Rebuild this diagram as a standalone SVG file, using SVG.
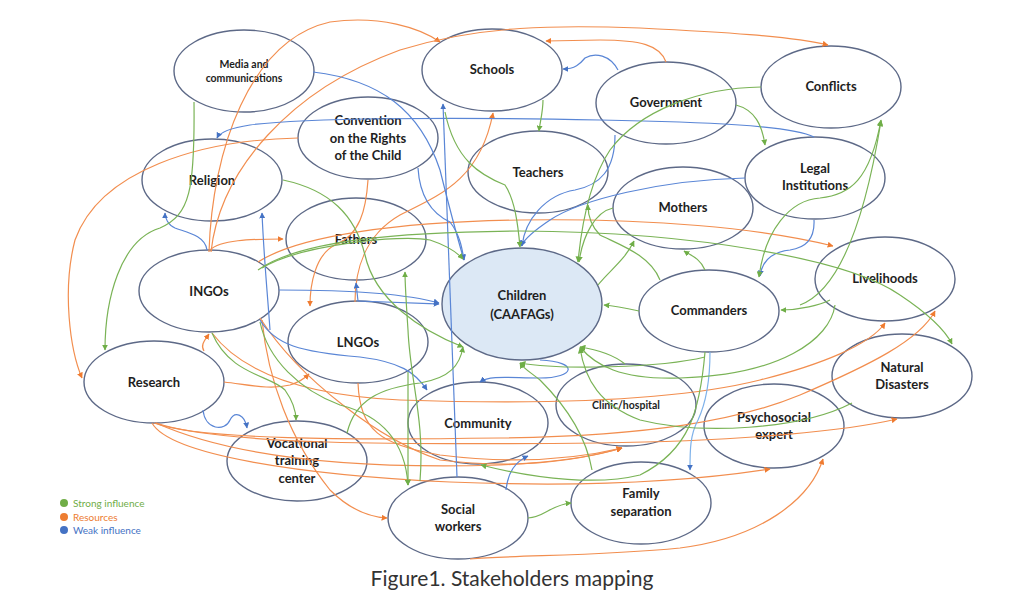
<svg xmlns="http://www.w3.org/2000/svg" width="1024" height="600" viewBox="0 0 1024 600">
<style>
.n ellipse{fill:#fff;stroke:#5d6987;stroke-width:1.4}
.n text{font-family:Lato,"Liberation Sans",sans-serif;font-weight:700;font-size:13px;fill:#1e1e1e;text-anchor:middle}
#children ellipse{fill:#dce8f5}
.c path{fill:none;stroke-width:1.2}
.g{stroke:#7ab356;marker-end:url(#mg)}
.o{stroke:#f28e4f;marker-end:url(#mo)}
.b{stroke:#5a86d6;marker-end:url(#mb)}
.lb{stroke:#7fb2ea;marker-end:url(#mb)}
.leg{font-family:Lato,"Liberation Sans",sans-serif;font-size:10px}
</style>
<defs>
<marker id="mg" viewBox="0 0 10 10" refX="9" refY="5" markerWidth="5" markerHeight="5" orient="auto-start-reverse"><path d="M0,0L10,5L0,10z" fill="#6fae47"/></marker>
<marker id="mo" viewBox="0 0 10 10" refX="9" refY="5" markerWidth="5" markerHeight="5" orient="auto-start-reverse"><path d="M0,0L10,5L0,10z" fill="#ef7b30"/></marker>
<marker id="mb" viewBox="0 0 10 10" refX="9" refY="5" markerWidth="5" markerHeight="5" orient="auto-start-reverse"><path d="M0,0L10,5L0,10z" fill="#4472c4"/></marker>
</defs>
<rect width="1024" height="600" fill="#fff"/>

<g id="media" class="n"><ellipse cx="244" cy="71" rx="70" ry="41"/><text x="244" y="68" style="font-size:10.5px">Media and</text><text x="244" y="82" style="font-size:10.5px">communications</text></g>
<g id="schools" class="n"><ellipse cx="492" cy="70" rx="70" ry="41"/><text x="492" y="74">Schools</text></g>
<g id="government" class="n"><ellipse cx="666" cy="103" rx="70" ry="41"/><text x="666" y="107">Government</text></g>
<g id="conflicts" class="n"><ellipse cx="831" cy="87" rx="70" ry="41"/><text x="831" y="91">Conflicts</text></g>
<g id="convention" class="n"><ellipse cx="368" cy="138" rx="70" ry="41"/><text x="368" y="125">Convention</text><text x="368" y="143">on the Rights</text><text x="368" y="160">of the Child</text></g>
<g id="religion" class="n"><ellipse cx="212" cy="180" rx="70" ry="41"/><text x="212" y="185">Religion</text></g>
<g id="teachers" class="n"><ellipse cx="538" cy="172" rx="70" ry="41"/><text x="538" y="177">Teachers</text></g>
<g id="legal" class="n"><ellipse cx="815" cy="178" rx="70" ry="41"/><text x="815" y="173">Legal</text><text x="815" y="190">Institutions</text></g>
<g id="mothers" class="n"><ellipse cx="683" cy="208" rx="70" ry="41"/><text x="683" y="212">Mothers</text></g>
<g id="fathers" class="n"><ellipse cx="356" cy="239" rx="70" ry="41"/><text x="356" y="244">Fathers</text></g>
<g id="ingos" class="n"><ellipse cx="209" cy="291" rx="70" ry="41"/><text x="209" y="296">INGOs</text></g>
<g id="children" class="n"><ellipse cx="522" cy="304" rx="80" ry="56"/><text x="522" y="300">Children</text><text x="522" y="319">(CAAFAGs)</text></g>
<g id="livelihoods" class="n"><ellipse cx="885" cy="279" rx="70" ry="42"/><text x="885" y="283">Livelihoods</text></g>
<g id="commanders" class="n"><ellipse cx="709" cy="311" rx="70" ry="41"/><text x="709" y="315">Commanders</text></g>
<g id="lngos" class="n"><ellipse cx="358" cy="342" rx="70" ry="41"/><text x="358" y="347">LNGOs</text></g>
<g id="research" class="n"><ellipse cx="154" cy="382" rx="70" ry="41"/><text x="154" y="387">Research</text></g>
<g id="natural" class="n"><ellipse cx="902" cy="376" rx="70" ry="42"/><text x="902" y="372">Natural</text><text x="902" y="389">Disasters</text></g>
<g id="clinic" class="n"><ellipse cx="626" cy="405" rx="70" ry="41"/><text x="626" y="409" style="font-size:10.5px">Clinic/hospital</text></g>
<g id="community" class="n"><ellipse cx="478" cy="423" rx="70" ry="41"/><text x="478" y="428">Community</text></g>
<g id="psychosocial" class="n"><ellipse cx="774" cy="426" rx="70" ry="42"/><text x="774" y="422">Psychosocial</text><text x="774" y="439">expert</text></g>
<g id="vocational" class="n"><ellipse cx="297" cy="461" rx="70" ry="40"/><text x="297" y="448">Vocational</text><text x="297" y="465">training</text><text x="297" y="483">center</text></g>
<g id="social" class="n"><ellipse cx="458" cy="518" rx="70" ry="41"/><text x="458" y="514">Social</text><text x="458" y="531">workers</text></g>
<g id="family" class="n"><ellipse cx="641" cy="503" rx="70" ry="41"/><text x="641" y="498">Family</text><text x="641" y="516">separation</text></g>

<g id="connectors" class="c">
<path class="o" d="M209,252 C212,150 250,40 330,22 C380,15 420,28 440,42"/>
<path class="o" d="M211,252 C220,170 290,90 400,50 C480,25 560,25 640,28 C720,32 790,36 828,45"/>
<path class="o" d="M666,62 C660,45 640,40 600,40 L546,41"/>
<path class="o" d="M298,138 C200,140 100,170 75,240 C62,290 70,350 82,378"/>
<path class="o" d="M210,250 C220,240 250,239 283,239"/>
<path class="o" d="M368,180 C366,210 360,235 335,245 C315,255 310,285 310,306"/>
<path class="o" d="M355,302 C355,270 365,235 400,215 C440,195 480,180 493,113"/>
<path class="o" d="M258,262 C300,235 400,222 520,220 C650,218 760,228 833,246"/>
<path class="o" d="M204,351 C200,345 205,340 209,334"/>
<path class="o" d="M224,382 C250,385 270,390 290,385 C300,382 306,377 309,374"/>
<path class="o" d="M262,320 C268,380 290,440 330,490 C350,510 370,517 387,518"/>
<path class="o" d="M212,333 C240,370 300,395 400,400 C550,405 680,400 760,380 C820,365 870,345 885,323"/>
<path class="o" d="M154,423 C200,440 350,440 500,438 C650,436 740,420 800,395 C870,365 920,340 935,311"/>
<path class="o" d="M156,423 C220,445 400,445 600,443 C750,441 850,430 897,419"/>
<path class="o" d="M152,423 C170,455 300,475 450,482 C600,488 700,480 770,469"/>
<path class="o" d="M358,383 C360,430 380,445 440,455 C520,465 580,458 622,448"/>
<path class="o" d="M260,318 C300,380 380,440 440,460 C520,470 580,460 622,448"/>
<path class="o" d="M156,423 C250,465 400,468 500,465 C560,462 600,455 622,448"/>
<path class="o" d="M470,559 C520,555 600,556 680,548 C760,538 810,500 823,459"/>

<path class="b" d="M313,72 C380,80 420,110 440,170 C450,210 458,240 464,260"/>
<path class="b" d="M615,135 C615,170 600,185 575,190 C545,195 525,220 522,246"/>
<path class="b" d="M618,70 C610,55 595,52 585,58 C580,64 575,69 563,69"/>
<path class="b" d="M745,178 C660,180 580,200 550,220 C535,230 525,238 521,246"/>
<path class="b" d="M814,137 C790,125 700,122 600,120 C450,117 300,118 250,125 C230,128 220,132 217,138"/>
<path class="b" d="M814,220 C815,240 805,248 790,250 C770,252 762,262 760,276"/>
<path class="b" d="M207,250 C205,235 185,232 175,228 C168,225 165,218 165,213"/>
<path class="b" d="M270,330 C268,300 264,260 262,213"/>
<path class="b" d="M279,290 C330,290 400,292 439,303"/>
<path class="b" d="M418,168 C420,200 435,215 450,222 C460,235 462,248 464,260"/>
<path class="b" d="M457,477 L443,104"/>
<path class="b" d="M506,490 C508,472 515,462 528,456"/>
<path class="b" d="M540,360 C580,362 575,378 540,378 C510,378 490,375 480,382"/>
<path class="lb" d="M710,352 C710,380 705,405 698,420 C690,435 690,450 690,470"/>
<path class="b" d="M203,410 C205,430 225,432 230,420 C235,410 245,415 247,428"/>
<path class="b" d="M260,320 C275,345 300,352 360,357 C400,362 415,372 427,390"/>
<path class="b" d="M358,301 L356,283"/>
<path class="b" d="M358,301 C380,302 410,303 439,304"/>

<path class="g" d="M194,102 C195,190 190,215 160,228 C120,240 105,300 105,350"/>
<path class="g" d="M543,100 C543,112 540,122 539,131"/>
<path class="g" d="M736,105 C755,110 762,125 765,145"/>
<path class="g" d="M761,87 C700,88 640,110 610,150 C590,180 582,220 578,262"/>
<path class="g" d="M445,112 C455,160 480,175 505,185 C515,200 518,225 520,247"/>
<path class="g" d="M283,180 C330,190 355,215 365,255 C375,300 420,330 463,347"/>
<path class="g" d="M258,270 C300,240 400,232 520,231 C700,232 850,260 900,295 C930,315 945,330 952,344"/>
<path class="g" d="M262,268 C300,245 400,234 430,240 C445,245 455,250 463,259"/>
<path class="g" d="M420,481 C425,420 410,380 408,330 C406,300 405,285 405,272"/>
<path class="g" d="M639,311 C625,308 615,306 604,305"/>
<path class="g" d="M830,300 C820,305 800,310 781,310"/>
<path class="g" d="M835,305 C830,340 780,375 680,378 C620,380 595,365 580,347"/>
<path class="g" d="M852,403 C800,430 700,435 640,420 C600,405 585,380 580,348"/>
<path class="g" d="M528,518 C545,517 550,505 571,503"/>
<path class="g" d="M705,352 C700,410 690,450 640,475 C600,485 540,480 481,465"/>
<path class="g" d="M212,333 C230,375 270,375 285,390 C292,400 296,410 296,420"/>
<path class="g" d="M260,322 C268,360 300,390 340,405 C380,415 405,440 408,485"/>
<path class="g" d="M408,372 L408,485"/>
<path class="g" d="M347,433 C355,400 380,388 420,383 C450,378 460,365 463,347"/>
<path class="g" style="marker-start:url(#mg)" d="M881,120 C870,180 850,195 820,198 C790,200 765,230 759,277"/>
<path class="g" d="M800,305 C840,290 865,220 881,121"/>
<path class="g" d="M660,280 C650,255 620,245 600,235 C590,225 588,215 588,205"/>
<path class="g" d="M705,270 C700,258 690,255 684,251"/>
<path class="g" d="M598,285 C610,270 625,260 634,241"/>
<path class="g" d="M613,208 C595,212 583,235 579,262"/>
<path class="g" d="M592,470 C585,430 560,400 540,380 C530,372 523,368 520,363"/>
<path class="g" d="M625,364 C615,356 600,350 580,347"/>
<path class="g" d="M705,357 C660,368 560,370 520,363"/>
</g>

<g id="legend" class="leg">
<circle cx="64" cy="503" r="4" fill="#70ad47"/><text x="73" y="507" fill="#70ad47">Strong influence</text>
<circle cx="64" cy="517" r="4" fill="#ed7d31"/><text x="73" y="521" fill="#ed7d31">Resources</text>
<circle cx="64" cy="530" r="4" fill="#4472c4"/><text x="73" y="534" fill="#4472c4">Weak influence</text>
</g>
<text x="512" y="586" text-anchor="middle" style="font-family:Lato,'Liberation Sans',sans-serif;font-size:21px;fill:#333">Figure1. Stakeholders mapping</text>
</svg>
